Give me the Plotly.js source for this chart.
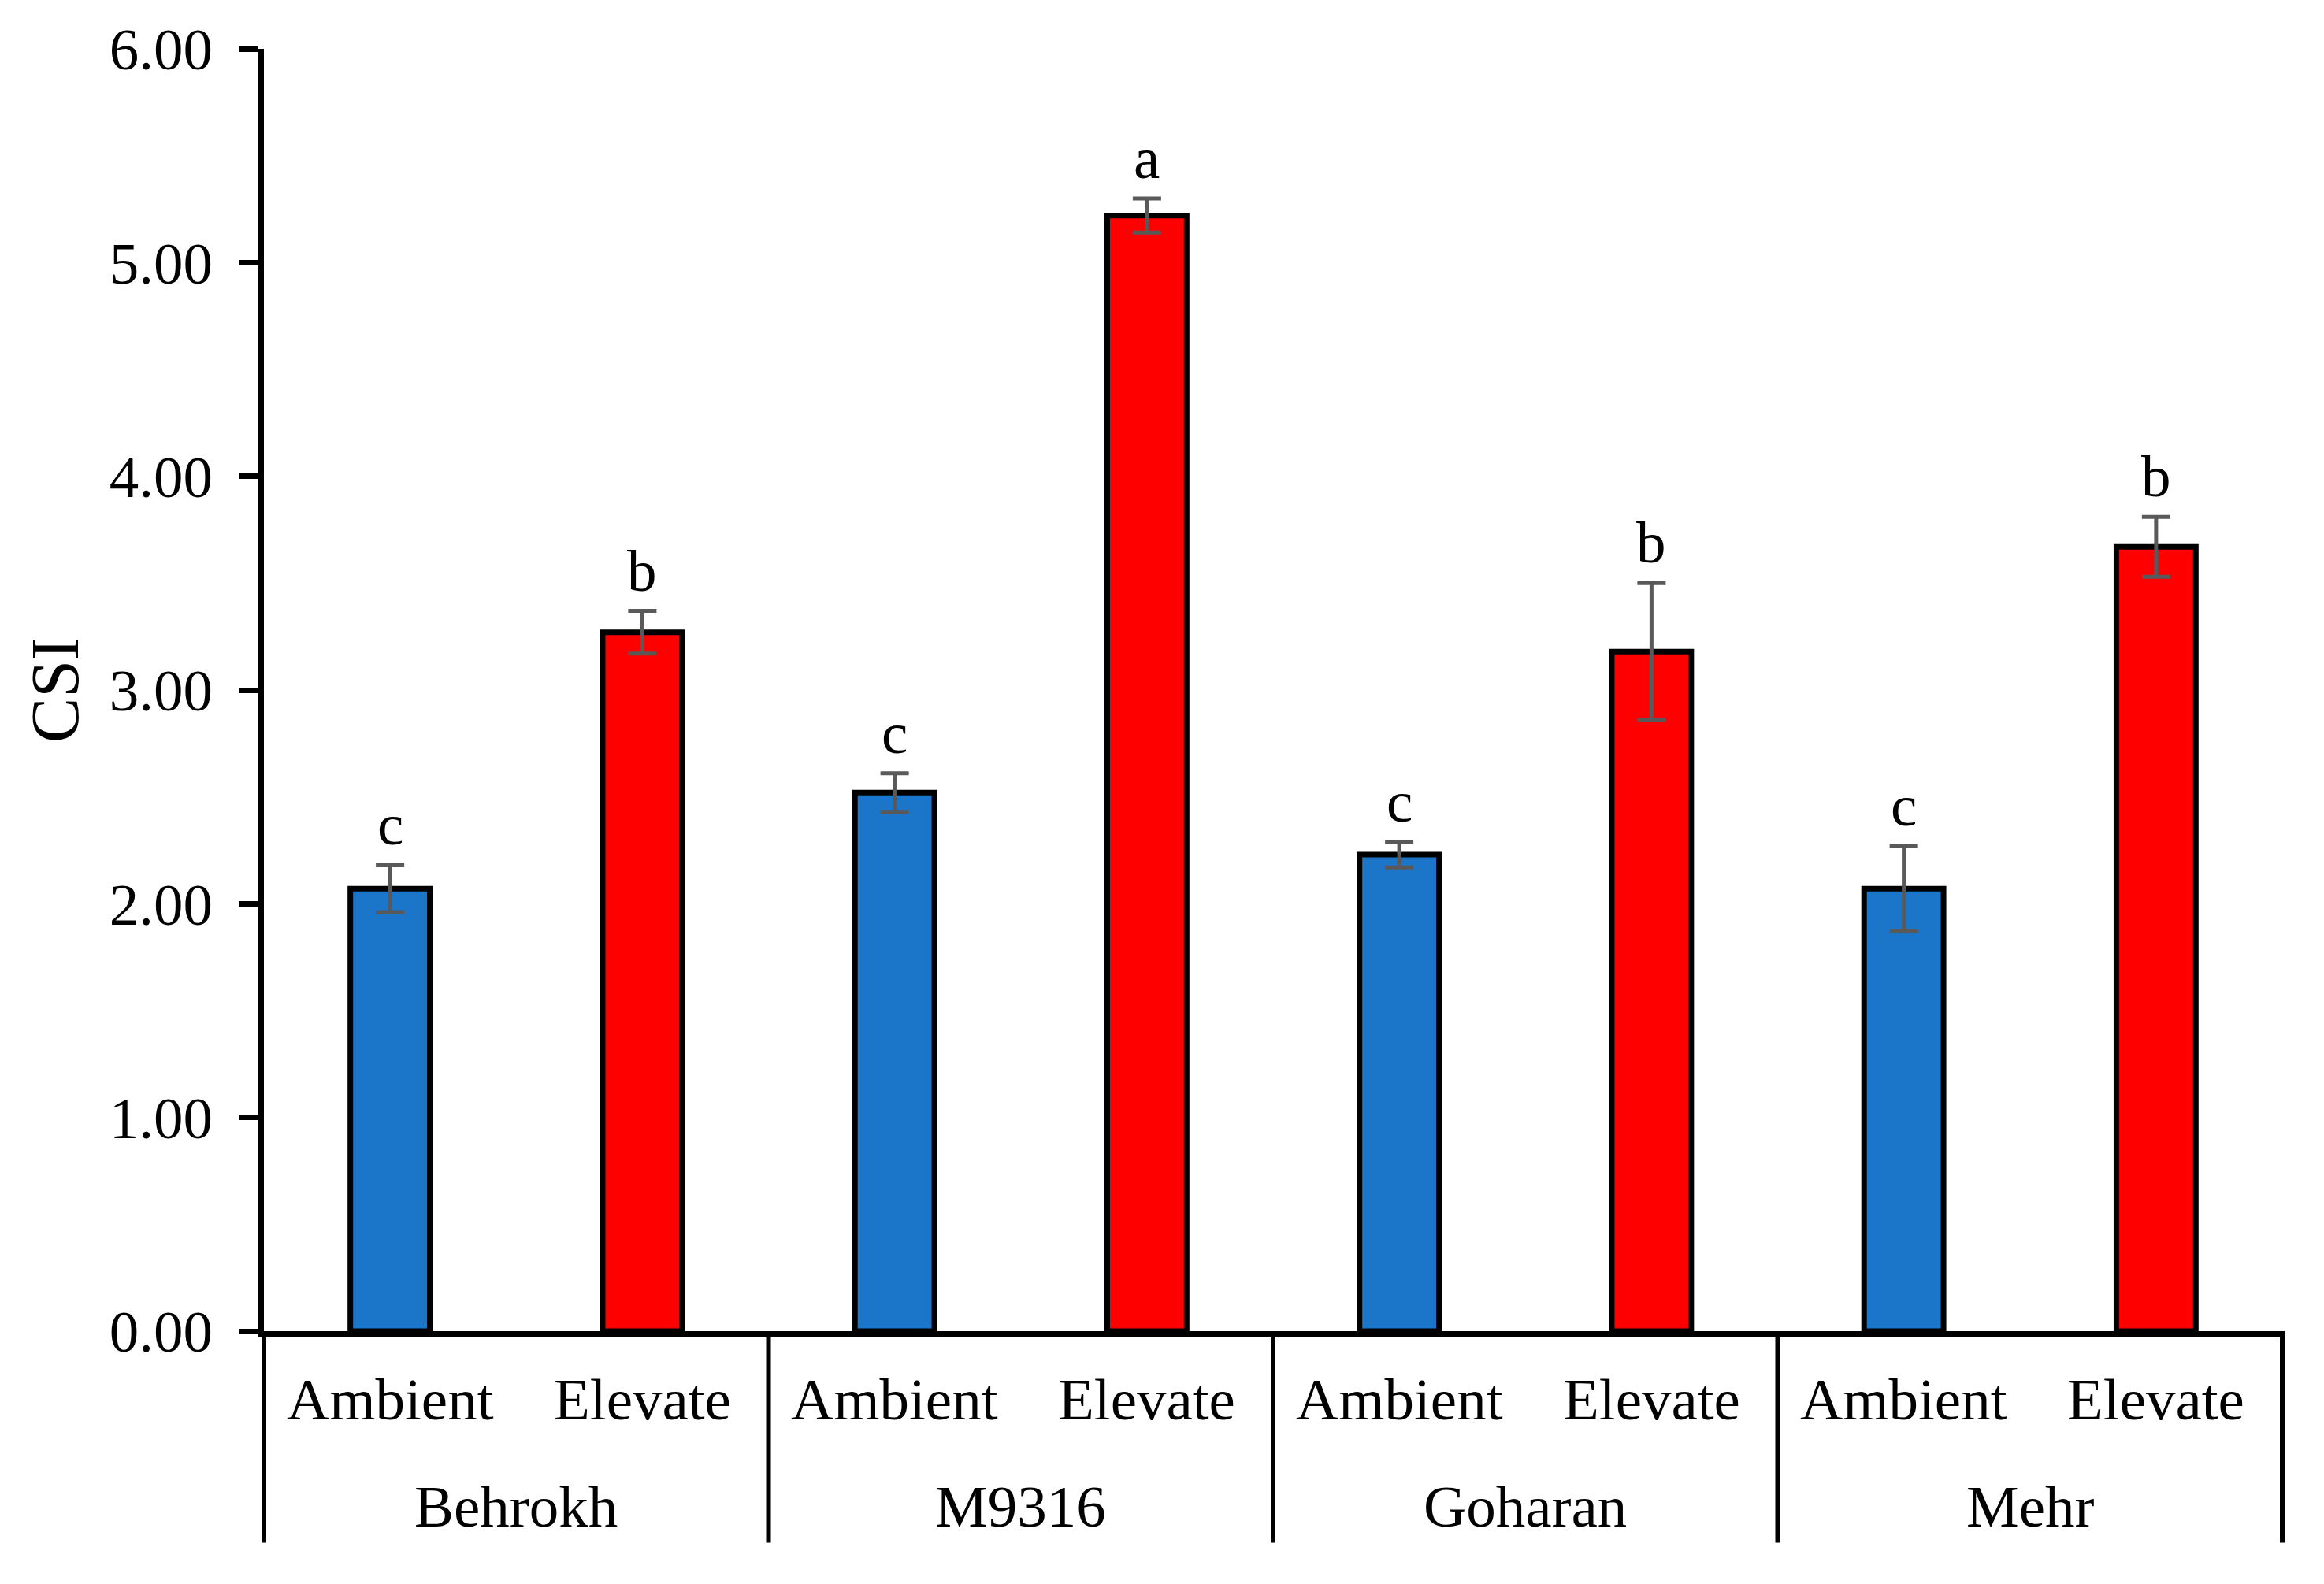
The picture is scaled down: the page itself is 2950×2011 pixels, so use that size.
<!DOCTYPE html>
<html>
<head>
<meta charset="utf-8">
<script src="https://cdn.plot.ly/plotly-3.0.1.min.js"></script>
<style>html,body{margin:0;padding:0;background:#fff;}</style>
</head>
<body>
<div id="chart" style="width:2950px;height:2011px;"></div>
<script>
// ---- data ----
const varieties = ["Behrokh", "M9316", "Goharan", "Mehr"];
const treatments = ["Ambient", "Elevate"];
const ambientCSI = [2.07, 2.52, 2.23, 2.07];
const elevateCSI = [3.27, 5.22, 3.18, 3.67];
const ambientErr = [0.11, 0.09, 0.06, 0.20];
const elevateErr = [0.10, 0.08, 0.32, 0.14];
const ambientLetters = ["c", "c", "c", "c"];
const elevateLetters = ["b", "a", "b", "b"];
const yTicks = [0, 1, 2, 3, 4, 5, 6];

// ---- styles ----
const FONT = "Liberation Serif, Times New Roman, serif";
const FS = 75;
const nT = treatments.length;
const xAmb = varieties.map((v, i) => i * nT);
const xElv = varieties.map((v, i) => i * nT + 1);

const barStyle = (color) => ({color: color, line: {color: "#000", width: 7}});
const errStyle = (arr) => ({type: "data", array: arr, visible: true, color: "#595959", thickness: 5, width: 18});

const traces = [
  {type: "bar", name: treatments[0], x: xAmb, y: ambientCSI, width: 0.315,
   marker: barStyle("#1B75C9"), error_y: errStyle(ambientErr), hoverinfo: "none"},
  {type: "bar", name: treatments[1], x: xElv, y: elevateCSI, width: 0.315,
   marker: barStyle("#FF0000"), error_y: errStyle(elevateErr), hoverinfo: "none"}
];

const annotations = [];
const shapes = [];
// significance letters
varieties.forEach((v, i) => {
  annotations.push({x: xAmb[i], y: ambientCSI[i] + ambientErr[i], xref: "x", yref: "y",
    text: ambientLetters[i], showarrow: false, yanchor: "bottom", yshift: 8,
    font: {family: FONT, size: FS, color: "#000"}});
  annotations.push({x: xElv[i], y: elevateCSI[i] + elevateErr[i], xref: "x", yref: "y",
    text: elevateLetters[i], showarrow: false, yanchor: "bottom", yshift: 8,
    font: {family: FONT, size: FS, color: "#000"}});
  // treatment labels
  [xAmb[i], xElv[i]].forEach((xx, k) => {
    annotations.push({x: xx, y: -0.0534, xref: "x", yref: "paper", text: treatments[k],
      showarrow: false, yanchor: "middle", font: {family: FONT, size: FS, color: "#000"}});
  });
  // group label
  annotations.push({x: i * nT + (nT - 1) / 2, y: -0.1364, xref: "x", yref: "paper", text: v,
    showarrow: false, yanchor: "middle", font: {family: FONT, size: FS, color: "#000"}});
});
// group dividers (paper refs so they are not clipped at the plot edges)
for (let i = 0; i <= varieties.length; i++) {
  const xp = i / varieties.length;
  shapes.push({type: "line", xref: "paper", yref: "paper", x0: xp, x1: xp,
    y0: 0, y1: -0.165, line: {color: "#000", width: 6}});
}
// y-axis title
annotations.push({x: -0.1034, y: 0.5, xref: "paper", yref: "paper", text: "CSI", textangle: -90,
  showarrow: false, xanchor: "center", yanchor: "middle", font: {family: FONT, size: 86, color: "#000"}});

const layout = {
  width: 2950, height: 2011,
  margin: {l: 335, r: 53, t: 62, b: 321, pad: 0},
  paper_bgcolor: "#fff", plot_bgcolor: "#fff",
  showlegend: false, barmode: "overlay",
  xaxis: {range: [-0.5, varieties.length * nT - 0.5], showticklabels: false, showgrid: false,
    zeroline: false, showline: true, linecolor: "#000", linewidth: 8, ticks: "", fixedrange: true},
  yaxis: {range: [0, 6], tickvals: yTicks, tickformat: ".2f", showgrid: false, zeroline: false,
    showline: true, linecolor: "#000", linewidth: 7, ticks: "outside", ticklen: 24, tickwidth: 7,
    tickcolor: "#000", ticklabelstandoff: 19,
    tickfont: {family: FONT, size: FS, color: "#000"}, fixedrange: true},
  annotations: annotations,
  shapes: shapes
};

Plotly.newPlot("chart", traces, layout, {displayModeBar: false, staticPlot: true});
</script>
</body>
</html>
